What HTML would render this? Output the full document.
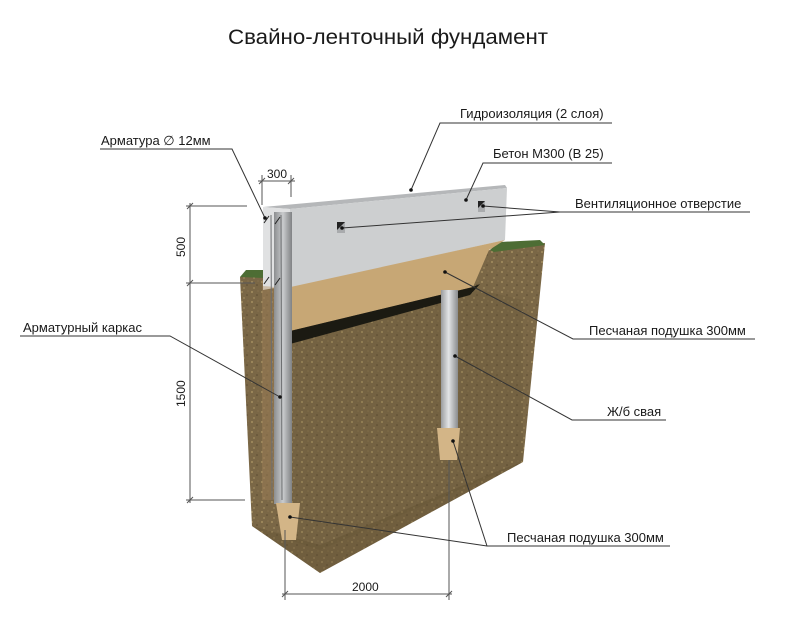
<!DOCTYPE html>
<html><head><meta charset="utf-8"><style>
html,body{margin:0;padding:0;background:#fff;}
svg{display:block;}
text{font-family:"Liberation Sans",Arial,sans-serif;fill:#1a1a1a;}
</style></head><body>
<svg width="799" height="641" viewBox="0 0 799 641" xmlns="http://www.w3.org/2000/svg">
<defs>
<pattern id="soil" width="10" height="10" patternUnits="userSpaceOnUse">
<rect width="10" height="10" fill="#7a6746"/>
<circle cx="2" cy="2" r="0.9" fill="#b09a68"/>
<circle cx="7" cy="5" r="0.8" fill="#5a4a30"/>
<circle cx="4" cy="8" r="0.6" fill="#c8b07a"/>
<circle cx="8" cy="1" r="0.5" fill="#9a8558"/>
</pattern>
<linearGradient id="pile" x1="0" x2="1"><stop offset="0" stop-color="#9a9c9e"/><stop offset="0.45" stop-color="#e2e4e6"/><stop offset="1" stop-color="#8a8c8e"/></linearGradient>
<linearGradient id="bars" x1="0" x2="1"><stop offset="0" stop-color="#8c8e90"/><stop offset="0.5" stop-color="#c9cbcd"/><stop offset="1" stop-color="#808284"/></linearGradient>
</defs>
<rect width="799" height="641" fill="#fff"/>
<text x="228" y="44" font-size="21" textLength="320" lengthAdjust="spacingAndGlyphs">Свайно-ленточный фундамент</text>

<!-- soil block -->
<polygon points="240,277 263,275 263,290 490,250 494,246 545,243 523,462 320,573 252,526" fill="url(#soil)"/>
<polygon points="252,526 320,573 523,462 500,470 320,545" fill="#5e4c32" opacity="0.35"/>
<polygon points="290,340 480,290 523,300 523,462 320,550 290,540" fill="#5a4830" opacity="0.15"/>
<!-- grass -->
<polygon points="240,277 246,270 264,270 264,278" fill="#4d6d34"/>
<polygon points="490,250 500,242 540,240 545,245 494,252" fill="#4d6d34"/>
<polygon points="262,280 276,280 276,500 262,500" fill="#9c7e56" opacity="0.5"/>

<!-- beam -->
<polygon points="263,207 505,185 507,188 290,209" fill="#b5b7b9"/>
<polygon points="290,209 507,188 505,240 290,288" fill="#cdcfd0"/>
<polygon points="263,207 290,209 290,288 263,286" fill="#e0e1e2"/>
<rect x="337" y="222" width="8" height="11" fill="#a9abad"/><polygon points="337,222 345,222 337,230" fill="#222"/>
<rect x="478" y="201" width="7" height="11" fill="#a9abad"/><polygon points="478,201 485,201 478,208" fill="#222"/>

<!-- sand cushion under beam -->
<polygon points="286,288 505,240 489,250 473,287 286,332" fill="#c7a775"/>
<polygon points="286,332 473,287 480,284 470,295 290,344" fill="#1b1a12"/>

<!-- rebar column -->
<rect x="274" y="212" width="18" height="292" fill="url(#bars)"/>
<line x1="271" y1="215" x2="272" y2="500" stroke="#6c6e70" stroke-width="1"/>
<line x1="281" y1="215" x2="282" y2="500" stroke="#6c6e70" stroke-width="1"/>
<polygon points="276,503 300,503 296,540 282,540" fill="#d3b587"/>
<g stroke="#222" stroke-width="1">
<line x1="264" y1="223" x2="269" y2="216"/><line x1="275" y1="224" x2="280" y2="217"/>
<line x1="264" y1="284" x2="269" y2="277"/><line x1="275" y1="285" x2="280" y2="278"/>
</g>

<!-- pile -->
<rect x="441" y="290" width="17" height="140" fill="url(#pile)"/>
<polygon points="437,428 460,428 457,460 440,460" fill="#d3b587"/>

<!-- dimension lines -->
<g stroke="#555" stroke-width="1" fill="none">
<line x1="190" y1="203" x2="190" y2="503"/>
<line x1="186" y1="206" x2="247" y2="206"/>
<line x1="186" y1="283" x2="255" y2="283"/>
<line x1="186" y1="500" x2="245" y2="500"/>
<line x1="262" y1="175" x2="262" y2="205"/>
<line x1="291" y1="175" x2="291" y2="197"/>
<line x1="258" y1="181" x2="295" y2="181"/>
<line x1="285" y1="530" x2="285" y2="600"/>
<line x1="449" y1="460" x2="449" y2="600"/>
<line x1="282" y1="594" x2="452" y2="594"/>
<line x1="187" y1="209" x2="193" y2="203"/><line x1="187" y1="286" x2="193" y2="280"/><line x1="187" y1="503" x2="193" y2="497"/>
<line x1="259" y1="184" x2="265" y2="178"/><line x1="288" y1="184" x2="294" y2="178"/>
<line x1="282" y1="597" x2="288" y2="591"/><line x1="446" y1="597" x2="452" y2="591"/>
</g>
<text x="267" y="178" font-size="12">300</text>
<text font-size="12" transform="translate(185,257) rotate(-90)">500</text>
<text font-size="12" transform="translate(185,407) rotate(-90)">1500</text>
<text x="352" y="591" font-size="12">2000</text>

<!-- leaders -->
<g stroke="#333" stroke-width="1" fill="none">
<polyline points="612,123 440,123 411,190"/>
<polyline points="612,163 483,163 466,200"/>
<polyline points="750,212 560,212 483,206"/>
<line x1="560" y1="212" x2="342" y2="228"/>
<polyline points="100,149 232,149 265,218"/>
<polyline points="20,336 170,336 280,397"/>
<polyline points="755,339 573,339 445,272"/>
<polyline points="666,420 572,420 455,356"/>
<polyline points="670,546 487,546 290,517"/>
<line x1="487" y1="546" x2="453" y2="441"/>
</g>
<g fill="#111">
<circle cx="411" cy="190" r="1.8"/><circle cx="466" cy="200" r="1.8"/><circle cx="483" cy="206" r="1.8"/>
<circle cx="342" cy="228" r="1.8"/><circle cx="265" cy="218" r="1.8"/><circle cx="280" cy="397" r="1.8"/>
<circle cx="445" cy="272" r="1.8"/><circle cx="455" cy="356" r="1.8"/><circle cx="290" cy="517" r="1.8"/><circle cx="453" cy="441" r="1.8"/>
</g>
<g font-size="13">
<text x="460" y="118">Гидроизоляция (2 слоя)</text>
<text x="493" y="158">Бетон М300 (В 25)</text>
<text x="575" y="208">Вентиляционное отверстие</text>
<text x="101" y="145">Арматура ∅  12мм</text>
<text x="23" y="332">Арматурный каркас</text>
<text x="589" y="335">Песчаная подушка 300мм</text>
<text x="607" y="416">Ж/б свая</text>
<text x="507" y="542">Песчаная подушка 300мм</text>
</g>
</svg>
</body></html>
